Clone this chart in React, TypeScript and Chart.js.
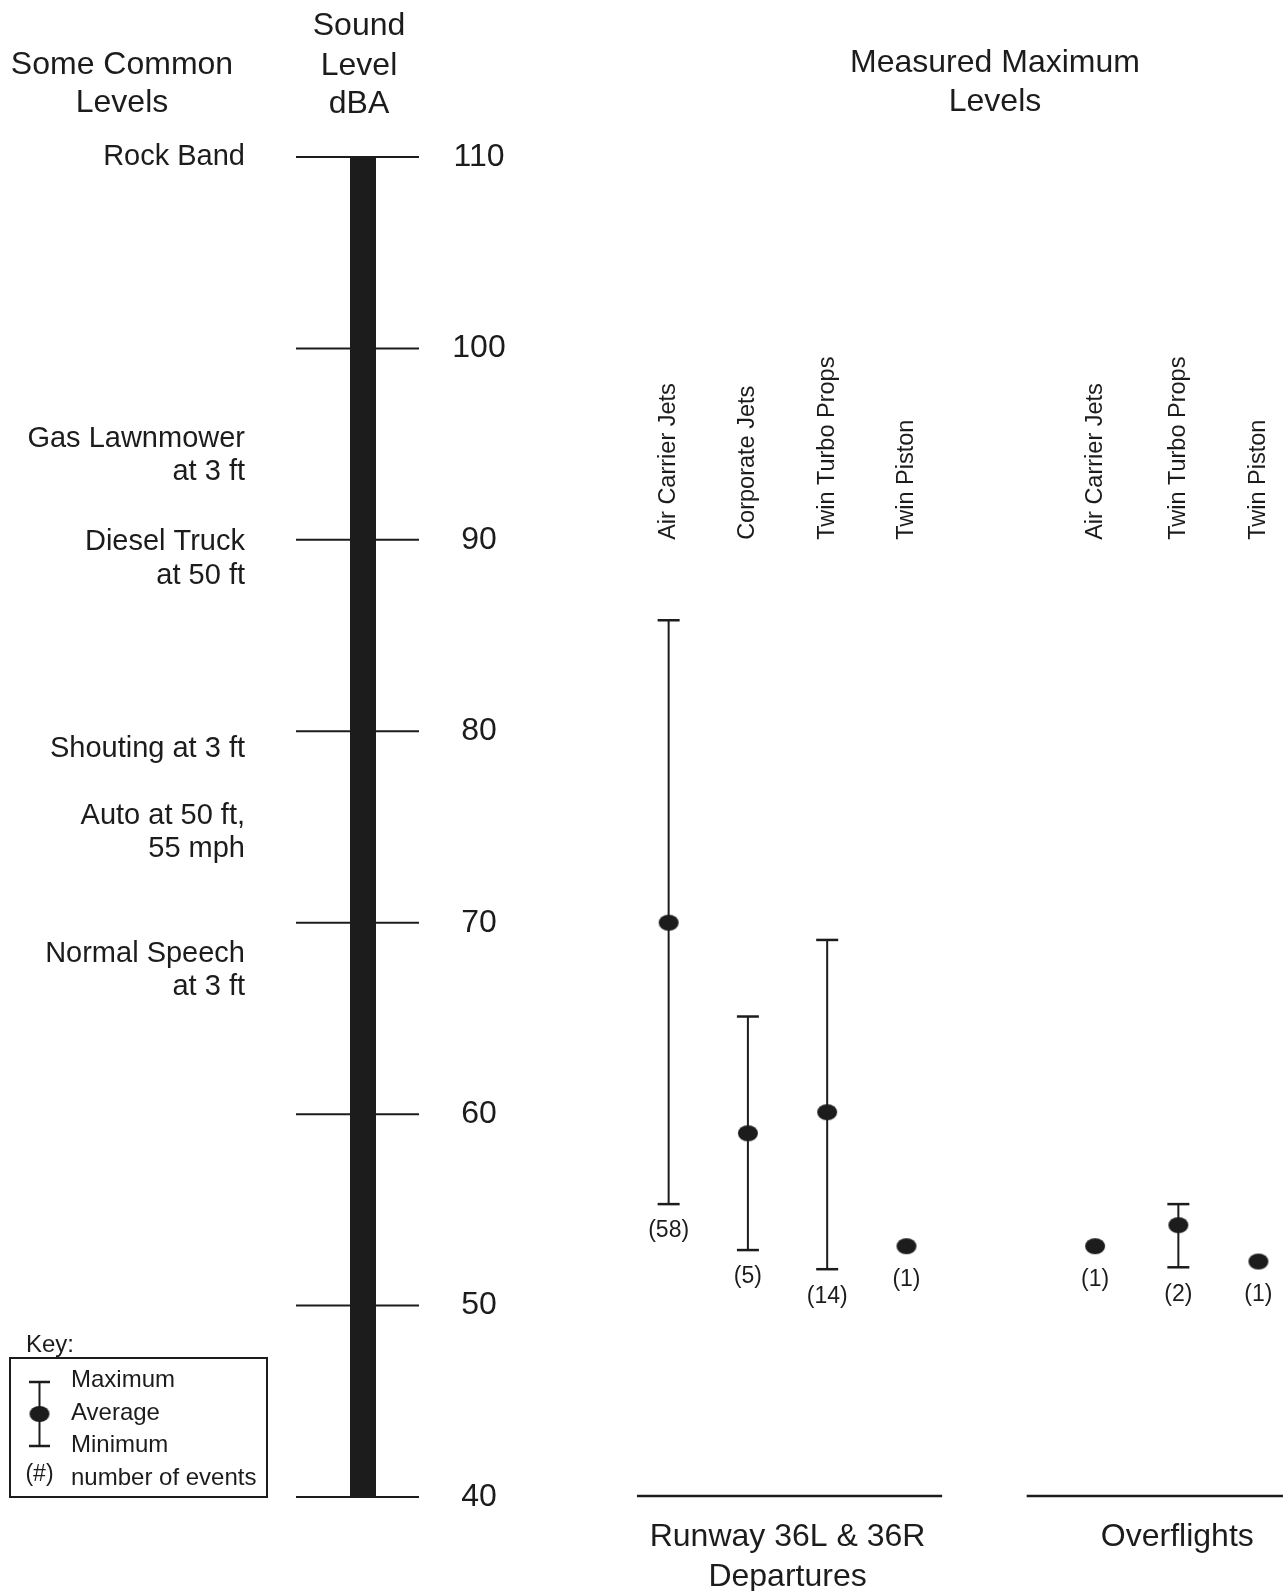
import React, { useEffect, useRef } from 'react';
import { Chart, registerables } from 'chart.js';

Chart.register(...registerables);

// ---- data ----
const categories = ['Air Carrier Jets', 'Corporate Jets', 'Twin Turbo Props', 'Twin Piston', 'Air Carrier Jets', 'Twin Turbo Props', 'Twin Piston'];
const categoryGroup = [0, 0, 0, 0, 1, 1, 1];
const categoryX = [1, 2, 3, 4, 6.38, 7.43, 8.44];
const maxLevels = [85.8, 65.1, 69.1, 53.1, 53.1, 55.3, 52.3];
const avgLevels = [70.0, 59.0, 60.1, 53.1, 53.1, 54.2, 52.3];
const minLevels = [55.3, 52.9, 51.9, 53.1, 53.1, 52.0, 52.3];
const eventCounts = [58, 5, 14, 1, 1, 2, 1];
const groupLabels = [['Runway 36L & 36R', 'Departures'], ['Overflights']];
const yTicks = [40, 50, 60, 70, 80, 90, 100, 110];
const commonLevelLabels = [
  ['Rock Band'],
  ['Gas Lawnmower', 'at 3 ft'],
  ['Diesel Truck', 'at 50 ft'],
  ['Shouting at 3 ft'],
  ['Auto at 50 ft,', '55 mph'],
  ['Normal Speech', 'at 3 ft'],
];
const commonLevelValues = [110, 94.4, 89.0, 79.1, 74.7, 67.5];
const categoryLabelLevel = 90;
const keyLabels = ['Maximum', 'Average', 'Minimum', 'number of events'];

const FONT = "'Liberation Sans', Arial, Helvetica, sans-serif";
const INK = '#1c1c1c';

function makeDot(): HTMLCanvasElement {
  const c = document.createElement('canvas');
  c.width = 22;
  c.height = 18;
  const g = c.getContext('2d')!;
  g.fillStyle = INK;
  g.beginPath();
  g.ellipse(11, 9, 10, 8, 0, 0, Math.PI * 2);
  g.fill();
  return c;
}

export default function App() {
  const ref = useRef<HTMLCanvasElement | null>(null);

  useEffect(() => {
    const canvas = ref.current;
    if (!canvas) return;
    const dot = makeDot();

    const text = (ctx: CanvasRenderingContext2D, s: string, x: number, y: number, size: number, align: CanvasTextAlign = 'center', baseline: CanvasTextBaseline = 'alphabetic') => {
      ctx.font = `${size}px ${FONT}`;
      ctx.fillStyle = INK;
      ctx.textAlign = align;
      ctx.textBaseline = baseline;
      ctx.fillText(s, x, y);
    };

    const line = (ctx: CanvasRenderingContext2D, x1: number, y1: number, x2: number, y2: number, w = 2) => {
      ctx.strokeStyle = INK;
      ctx.lineWidth = w;
      ctx.beginPath();
      ctx.moveTo(x1, y1);
      ctx.lineTo(x2, y2);
      ctx.stroke();
    };

    const drawPlugin = {
      id: 'soundDecor',
      beforeDatasetsDraw(chart: any) {
        const ctx: CanvasRenderingContext2D = chart.ctx;
        const xs = chart.scales.x;
        const ys = chart.scales.y;
        ctx.save();
        categories.forEach((_, i) => {
          if (maxLevels[i] === minLevels[i]) return;
          const px = xs.getPixelForValue(categoryX[i]);
          const pMax = ys.getPixelForValue(maxLevels[i]);
          const pMin = ys.getPixelForValue(minLevels[i]);
          line(ctx, px, pMax, px, pMin, 2);
          line(ctx, px - 11, pMax, px + 11, pMax, 2.5);
          line(ctx, px - 11, pMin, px + 11, pMin, 2.5);
        });
        ctx.restore();
      },
      afterDraw(chart: any) {
        const ctx: CanvasRenderingContext2D = chart.ctx;
        const xs = chart.scales.x;
        const ys = chart.scales.y;
        ctx.save();

        // headers
        text(ctx, 'Some Common', 122, 74, 32);
        text(ctx, 'Levels', 122, 112, 32);
        text(ctx, 'Sound', 359, 35, 32);
        text(ctx, 'Level', 359, 75, 32);
        text(ctx, 'dBA', 359, 113, 32);
        text(ctx, 'Measured Maximum', 995, 72, 32);
        text(ctx, 'Levels', 995, 111, 32);

        // scale bar
        const top = ys.getPixelForValue(110);
        const bottom = ys.getPixelForValue(40);
        ctx.fillStyle = INK;
        ctx.fillRect(350, top, 26, bottom - top);
        yTicks.forEach((t) => {
          const py = ys.getPixelForValue(t);
          line(ctx, 296, py, 419, py, 2);
          text(ctx, String(t), 479, py, 32, 'center', 'middle');
        });

        // common level labels
        commonLevelLabels.forEach((lines, i) => {
          const cy = ys.getPixelForValue(commonLevelValues[i]);
          const step = 33.5;
          const start = cy - ((lines.length - 1) * step) / 2;
          lines.forEach((s, j) => text(ctx, s, 245, start + j * step, 29, 'right', 'middle'));
        });

        // category labels (rotated)
        const labelY = ys.getPixelForValue(categoryLabelLevel);
        categories.forEach((c, i) => {
          const px = xs.getPixelForValue(categoryX[i]);
          ctx.save();
          ctx.translate(px, labelY);
          ctx.rotate(-Math.PI / 2);
          text(ctx, c, 0, 0, 23.5, 'left', 'middle');
          ctx.restore();
        });

        // event counts
        categories.forEach((_, i) => {
          const px = xs.getPixelForValue(categoryX[i]);
          const pMin = ys.getPixelForValue(minLevels[i]);
          const off = maxLevels[i] === minLevels[i] ? 33 : 27;
          text(ctx, `(${eventCounts[i]})`, px, pMin + off, 23, 'center', 'middle');
        });

        // group baselines and labels
        groupLabels.forEach((lines, g) => {
          const idx = categoryX.filter((_, i) => categoryGroup[i] === g);
          const center = idx.reduce((a, b) => a + b, 0) / idx.length;
          const x1 = xs.getPixelForValue(center - 1.9);
          const x2 = Math.min(xs.getPixelForValue(center + 1.95), chart.width);
          line(ctx, x1, bottom - 1, x2, bottom - 1, 2.5);
          const cx = xs.getPixelForValue(center);
          lines.forEach((s, j) => text(ctx, s, cx, 1546 + j * 39.5, 32));
        });

        // key
        text(ctx, 'Key:', 26, 1345, 24, 'left', 'middle');
        ctx.strokeStyle = INK;
        ctx.lineWidth = 2;
        ctx.strokeRect(10, 1358, 257, 139);
        line(ctx, 39.5, 1382, 39.5, 1446, 2);
        line(ctx, 29, 1382, 50, 1382, 2.5);
        line(ctx, 29, 1446, 50, 1446, 2.5);
        ctx.drawImage(dot, 39.5 - 11, 1414 - 9);
        text(ctx, '(#)', 39.5, 1475, 23, 'center', 'middle');
        const keyRows = [1380.5, 1413, 1445.5, 1478];
        keyLabels.forEach((s, i) => text(ctx, s, 71, keyRows[i], 24, 'left', 'middle'));

        ctx.restore();
      },
    };

    const chart = new Chart(canvas, {
      type: 'scatter',
      data: {
        datasets: [
          {
            data: categories.map((_, i) => ({ x: categoryX[i], y: avgLevels[i] })),
            pointStyle: dot as any,
            pointRadius: 10,
            pointHoverRadius: 10,
            backgroundColor: INK,
            borderColor: INK,
            clip: false as any,
          },
        ],
      },
      options: {
        animation: false,
        responsive: false,
        events: [],
        layout: { autoPadding: false, padding: { left: 629, right: 0, top: 157, bottom: 94 } },
        scales: {
          x: { type: 'linear', min: 0.5, max: 8.75, display: false },
          y: { type: 'linear', min: 40, max: 110, display: false },
        },
        plugins: { legend: { display: false }, tooltip: { enabled: false } },
      },
      plugins: [drawPlugin],
    });
    return () => chart.destroy();
  }, []);

  return (
    <div style={{ position: 'absolute', left: 0, top: 0, width: 1283, height: 1591, background: '#fff' }}>
      <canvas ref={ref} width={1283} height={1591} style={{ display: 'block' }} />
    </div>
  );
}
